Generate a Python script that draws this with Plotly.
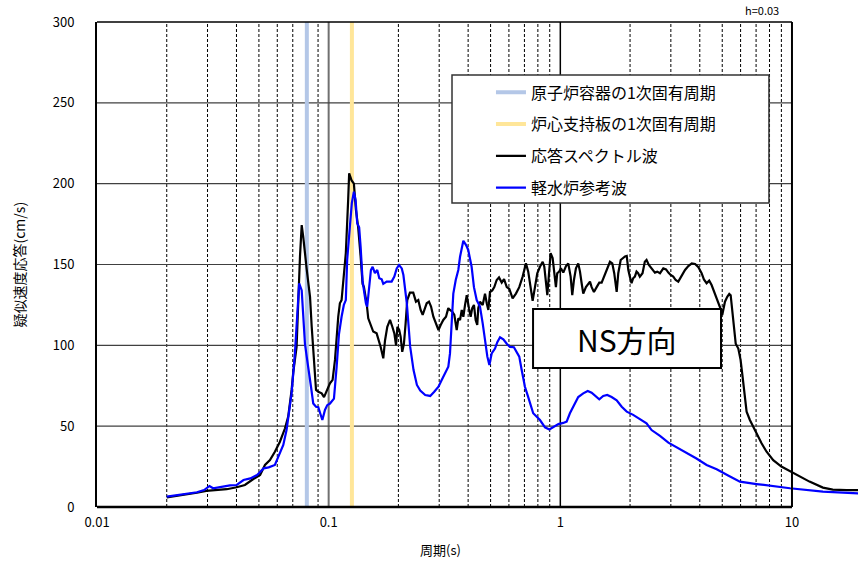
import plotly.graph_objects as go

# 応答スペクトル波 (black): period [s] and pseudo-velocity response [cm/s]
resp_period = [
    0.020, 0.0221, 0.0244, 0.0270, 0.0296, 0.0328, 0.0363, 0.0401, 0.0435, 0.0473,
    0.0506, 0.0531, 0.0558, 0.0586, 0.0616, 0.0648, 0.0669, 0.0692, 0.0703, 0.0727,
    0.0739, 0.0752, 0.0765, 0.0770, 0.0777, 0.0804, 0.0831, 0.0845, 0.0864, 0.0882,
    0.0902, 0.0933, 0.0955, 0.0981, 0.1013, 0.1040, 0.1065, 0.1100, 0.1118, 0.1137,
    0.1163, 0.1186, 0.1214, 0.1226, 0.1256, 0.1285, 0.1311, 0.1341, 0.1374, 0.1401,
    0.1420, 0.1459, 0.1482, 0.1533, 0.1557, 0.1611, 0.1654, 0.1677, 0.1721, 0.1751,
    0.1791, 0.1840, 0.1883, 0.1921, 0.1954, 0.1980, 0.2016, 0.2045, 0.2078, 0.2113,
    0.2149, 0.2184, 0.2243, 0.2318, 0.2381, 0.2437, 0.2495, 0.2546, 0.2605, 0.2650,
    0.2711, 0.2767, 0.2831, 0.2910, 0.2979, 0.3045, 0.3125, 0.3210, 0.3284, 0.3340,
    0.3418, 0.3487, 0.3571, 0.3628, 0.3691, 0.3754, 0.3814, 0.3879, 0.3945, 0.4032,
    0.4101, 0.4167, 0.4238, 0.4310, 0.4380, 0.4424, 0.4500, 0.4623, 0.4731, 0.4812,
    0.4890, 0.4970, 0.5085, 0.5188, 0.5313, 0.5437, 0.5585, 0.5716, 0.5872, 0.6018,
    0.6224, 0.6433, 0.6649, 0.6877, 0.7105, 0.7269, 0.7446, 0.7596, 0.7773, 0.7953,
    0.8169, 0.8393, 0.8529, 0.8675, 0.8788, 0.8939, 0.9081, 0.9264, 0.9413, 0.9572,
    0.9697, 0.9891, 1.006, 1.030, 1.058, 1.082, 1.108, 1.126, 1.145, 1.168,
    1.195, 1.216, 1.236, 1.256, 1.290, 1.320, 1.343, 1.365, 1.397, 1.435,
    1.473, 1.508, 1.543, 1.585, 1.610, 1.638, 1.676, 1.709, 1.751, 1.779,
    1.822, 1.859, 1.902, 1.935, 1.966, 1.996, 2.030, 2.063, 2.098, 2.133,
    2.167, 2.204, 2.264, 2.316, 2.356, 2.411, 2.477, 2.561, 2.621, 2.693,
    2.784, 2.860, 2.927, 2.994, 3.073, 3.147, 3.230, 3.341, 3.454, 3.570,
    3.693, 3.817, 3.945, 4.073, 4.167, 4.280, 4.392, 4.498, 4.649, 4.757,
    4.853, 4.937, 5.000, 5.137, 5.256, 5.362, 5.437, 5.492, 5.580, 5.716,
    5.866, 6.00, 6.12, 6.26, 6.37, 6.58, 6.80, 7.03, 7.39, 7.77,
    8.3, 9.0, 9.8, 10.8, 11.9, 13.6, 15.0, 17.2, 19.0, 20.0,
]
resp_sv = [
    6.0, 6.8, 7.8, 8.8, 10.0, 10.5, 11.0, 12.2, 13.6, 17.3,
    19.8, 26.0, 29.0, 34.2, 40.4, 48.7, 55.9, 72.4, 83.0, 99.0,
    132.0, 155.0, 174.4, 172.0, 167.0, 147.0, 130.0, 111.5, 87.0, 72.4,
    71.3, 70.3, 68.0, 72.4, 76.5, 78.6, 91.0, 117.7, 126.0, 128.0,
    142.5, 157.0, 190.0, 206.4, 202.0, 200.0, 184.0, 173.0, 155.0, 138.0,
    136.0, 126.0, 116.7, 111.5, 108.5, 107.4, 102.0, 99.0, 92.0, 103.0,
    111.5, 115.7, 111.5, 107.4, 100.0, 111.5, 109.5, 105.4, 96.0, 101.0,
    113.6, 128.0, 132.6, 132.6, 127.0, 128.0, 121.9, 118.8, 123.0, 126.0,
    127.0, 124.0, 117.7, 113.6, 109.5, 112.6, 115.7, 117.7, 123.0, 121.9,
    120.8, 118.8, 109.5, 116.7, 115.7, 121.9, 117.7, 125.0, 131.0, 123.0,
    117.7, 123.0, 125.0, 115.7, 112.6, 123.0, 127.0, 125.0, 132.0, 126.0,
    121.9, 133.0, 134.0, 136.0, 140.4, 142.0, 138.8, 141.0, 136.0, 135.0,
    129.0, 132.0, 136.0, 142.5, 150.7, 145.6, 136.0, 127.6, 136.0, 144.6,
    148.6, 151.7, 148.6, 140.4, 131.0, 144.6, 157.0, 154.0, 144.6, 136.0,
    144.6, 145.6, 147.6, 145.0, 149.0, 150.7, 142.5, 131.0, 140.4, 147.6,
    150.7, 145.6, 138.4, 132.0, 136.0, 138.4, 139.4, 136.0, 133.0, 136.0,
    138.8, 138.8, 142.5, 145.6, 148.6, 151.7, 150.7, 144.6, 133.0, 144.6,
    152.8, 154.0, 155.0, 155.3, 146.6, 142.5, 138.4, 141.5, 142.5, 145.6,
    144.6, 142.5, 144.6, 151.7, 152.8, 149.7, 147.6, 145.0, 145.6, 144.6,
    147.6, 147.0, 145.0, 143.5, 142.5, 140.4, 139.4, 143.5, 146.6, 149.0,
    150.7, 150.3, 148.3, 144.6, 140.8, 138.4, 140.0, 137.3, 132.0, 129.0,
    126.0, 122.0, 118.8, 127.0, 130.0, 131.8, 131.0, 124.0, 113.6, 101.0,
    98.0, 91.0, 80.6, 68.0, 59.0, 53.8, 49.7, 45.6, 39.4, 34.2,
    29.0, 25.0, 22.3, 18.7, 15.7, 12.0, 10.8, 10.5, 10.5, 10.5,
]

# 軽水炉参考波 (blue)
lwr_period = [
    0.020, 0.0221, 0.0244, 0.0270, 0.0290, 0.0306, 0.0317, 0.0328, 0.0351, 0.0375,
    0.0401, 0.0429, 0.0459, 0.0491, 0.0524, 0.0551, 0.0586, 0.0612, 0.0637, 0.0658,
    0.0675, 0.0692, 0.0715, 0.0731, 0.0746, 0.0765, 0.0777, 0.0790, 0.0804, 0.0822,
    0.0839, 0.0858, 0.0882, 0.0902, 0.0918, 0.0939, 0.0964, 0.0986, 0.1013, 0.1054,
    0.1083, 0.1108, 0.1137, 0.1163, 0.1186, 0.1202, 0.1234, 0.1259, 0.1285, 0.1307,
    0.1328, 0.1354, 0.1374, 0.1401, 0.1420, 0.1448, 0.1467, 0.1497, 0.1522, 0.1548,
    0.1584, 0.1621, 0.1654, 0.1694, 0.1721, 0.1780, 0.1870, 0.1921, 0.1967, 0.2013,
    0.2068, 0.2102, 0.2175, 0.2249, 0.2325, 0.2404, 0.2485, 0.2611, 0.2744, 0.2856,
    0.2979, 0.3076, 0.3178, 0.3285, 0.3340, 0.3397, 0.3452, 0.3536, 0.3628, 0.3691,
    0.3754, 0.3814, 0.3918, 0.4004, 0.4141, 0.4238, 0.4355, 0.4500, 0.4623, 0.4731,
    0.4842, 0.4940, 0.5055, 0.5225, 0.5346, 0.5492, 0.5676, 0.5872, 0.6060, 0.6305,
    0.6477, 0.6649, 0.6811, 0.7035, 0.7269, 0.7638, 0.8169, 0.8587, 0.8966, 0.9332,
    0.9811, 1.030, 1.065, 1.100, 1.137, 1.195, 1.256, 1.313, 1.365, 1.411,
    1.473, 1.532, 1.594, 1.665, 1.751, 1.841, 1.935, 2.063, 2.241, 2.356,
    2.477, 2.693, 2.927, 3.18, 3.51, 3.87, 4.28, 4.73, 5.3, 5.96,
    7.03, 9.8, 13.6, 19.0, 20.0,
]
lwr_sv = [
    6.4, 7.4, 8.0, 9.1, 10.5, 13.0, 11.6, 12.0, 12.6, 13.4,
    13.6, 16.7, 17.7, 19.8, 23.9, 24.5, 26.0, 32.0, 38.4, 47.6,
    58.0, 70.5, 95.0, 115.7, 138.4, 134.0, 117.7, 101.0, 93.0, 84.7,
    74.4, 64.0, 62.0, 61.7, 58.0, 53.8, 60.0, 63.0, 64.0, 67.0,
    87.0, 107.0, 117.7, 125.0, 128.0, 152.8, 173.0, 188.0, 195.0, 190.0,
    175.5, 173.0, 161.0, 140.0, 134.0, 126.0, 124.0, 136.0, 146.6, 148.6,
    144.6, 146.6, 141.5, 140.8, 138.0, 139.4, 139.4, 142.5, 147.6, 149.7,
    147.6, 143.5, 126.0, 99.0, 84.7, 75.5, 72.0, 69.3, 68.7, 71.3,
    74.4, 78.6, 82.7, 86.8, 95.0, 115.7, 132.0, 140.4, 146.6, 154.8,
    161.0, 164.7, 162.0, 159.0, 148.6, 136.0, 128.0, 124.0, 113.6, 103.0,
    93.0, 87.8, 95.0, 98.0, 102.0, 105.0, 103.7, 101.0, 99.0, 98.8,
    96.0, 93.0, 84.7, 74.4, 68.0, 58.0, 53.8, 49.3, 48.0, 49.3,
    51.3, 52.0, 52.8, 58.0, 62.0, 68.0, 70.3, 71.8, 70.7, 68.7,
    66.6, 68.7, 69.3, 68.0, 66.0, 62.0, 59.0, 57.0, 54.0, 51.8,
    47.6, 44.0, 39.8, 37.0, 33.6, 30.0, 26.0, 23.3, 19.5, 15.7,
    14.2, 11.6, 9.5, 8.5, 8.3,
]

# natural periods marked as vertical bands
vessel_period = 0.0805   # 原子炉容器の1次固有周期
support_period = 0.126   # 炉心支持板の1次固有周期

y_ticks = [0, 50, 100, 150, 200, 250, 300]
x_ticks = [0.01, 0.1, 1, 10]
x_ticklabels = ["0.01", "0.1", "1", "10"]

FONT = "Noto Sans CJK JP, Noto Sans, sans-serif"
X_MIN, X_MAX = 0.01, 10.0

fig = go.Figure()

# vertical reference lines (drawn first so the spectra sit on top)
fig.add_trace(go.Scatter(
    x=[vessel_period, vessel_period], y=[0, 300], mode="lines",
    line=dict(color="#b4c7e7", width=4), name="原子炉容器の1次固有周期",
))
fig.add_trace(go.Scatter(
    x=[support_period, support_period], y=[0, 300], mode="lines",
    line=dict(color="#ffe699", width=4), name="炉心支持板の1次固有周期",
))
fig.add_trace(go.Scatter(
    x=resp_period, y=resp_sv, mode="lines",
    line=dict(color="#000000", width=2.2), name="応答スペクトル波",
))
fig.add_trace(go.Scatter(
    x=lwr_period, y=lwr_sv, mode="lines",
    line=dict(color="#0000ff", width=2.2), name="軽水炉参考波",
))

shapes = []
# vertical grid: dashed minor lines, solid at 0.1 and 1
for dec in [0.01, 0.1, 1]:
    for k in range(2, 10):
        v = dec * k
        shapes.append(dict(type="line", xref="x", yref="y", x0=v, x1=v, y0=0, y1=300,
                           line=dict(color="#000000", width=1, dash="3px,2px"), layer="below"))
shapes.append(dict(type="line", xref="x", yref="y", x0=0.1, x1=0.1, y0=0, y1=300,
                   line=dict(color="#707070", width=2), layer="below"))
shapes.append(dict(type="line", xref="x", yref="y", x0=1, x1=1, y0=0, y1=300,
                   line=dict(color="#000000", width=1.5), layer="below"))
# horizontal grid
for v in y_ticks[1:-1]:
    shapes.append(dict(type="line", xref="x", yref="y", x0=X_MIN, x1=X_MAX, y0=v, y1=v,
                       line=dict(color="#404040", width=1.2), layer="below"))
# plot frame (ends at T = 10 s)
shapes.append(dict(type="line", xref="x", yref="paper", x0=X_MIN, x1=X_MAX, y0=1, y1=1,
                   line=dict(color="#000000", width=1.5), layer="above"))
shapes.append(dict(type="line", xref="x", yref="paper", x0=X_MAX, x1=X_MAX, y0=0, y1=1,
                   line=dict(color="#000000", width=2), layer="above"))
shapes.append(dict(type="line", xref="x", yref="paper", x0=X_MIN, x1=X_MAX, y0=0, y1=0,
                   line=dict(color="#000000", width=2.5), layer="above"))
# legend frame
shapes.append(dict(type="rect", xref="paper", yref="paper", x0=0.4665, x1=0.883, y0=0.6268, y1=0.8907,
                   line=dict(color="#333333", width=1.5), fillcolor="#ffffff", layer="above"))
# direction label frame
shapes.append(dict(type="rect", xref="paper", yref="paper", x0=0.573, x1=0.820, y0=0.2866, y1=0.408,
                   line=dict(color="#000000", width=2), fillcolor="#ffffff", layer="above"))

annotations = [
    dict(text="NS方向", xref="paper", yref="paper", x=0.6965, y=0.347, showarrow=False,
         font=dict(family=FONT, size=30, color="#000000"), xanchor="center", yanchor="middle"),
    dict(text="h=0.03", xref="paper", yref="paper", x=0.874, y=1.0, yshift=12, showarrow=False,
         font=dict(family=FONT, size=11, color="#000000"), xanchor="center", yanchor="middle"),
    dict(text="周期(s)", xref="paper", yref="paper", x=0.452, y=0, yshift=-42, showarrow=False,
         font=dict(family=FONT, size=13, color="#000000"), xanchor="center", yanchor="middle"),
    dict(text="疑似速度応答(cm/s)", xref="paper", yref="paper", x=0, xshift=-79, y=0.5,
         textangle=-90, showarrow=False,
         font=dict(family=FONT, size=14, color="#000000"), xanchor="center", yanchor="middle"),
]

fig.update_layout(
    width=858, height=562,
    margin=dict(l=97, r=0, t=22, b=55),
    paper_bgcolor="#ffffff", plot_bgcolor="#ffffff",
    font=dict(family=FONT, size=13, color="#000000"),
    shapes=shapes,
    annotations=annotations,
    showlegend=True,
    legend=dict(x=0.5177, y=0.890, xanchor="left", yanchor="top",
                bgcolor="rgba(0,0,0,0)", borderwidth=0,
                font=dict(family=FONT, size=16, color="#000000"),
                tracegroupgap=8, itemwidth=30),
    xaxis=dict(type="log", range=[-2, 1.285], showgrid=False, zeroline=False,
               showline=False, ticks="", tickvals=x_ticks, ticktext=x_ticklabels,
               ticklabelstandoff=6, tickfont=dict(size=13)),
    yaxis=dict(range=[0, 300], showgrid=False, zeroline=False, showline=True,
               linecolor="#000000", linewidth=2, ticks="", tickvals=y_ticks,
               ticklabelstandoff=18, tickfont=dict(size=13)),
)

for i, tr in enumerate(fig.data):
    tr.legendgroup = f"g{i}"

fig.write_html("out.html")
